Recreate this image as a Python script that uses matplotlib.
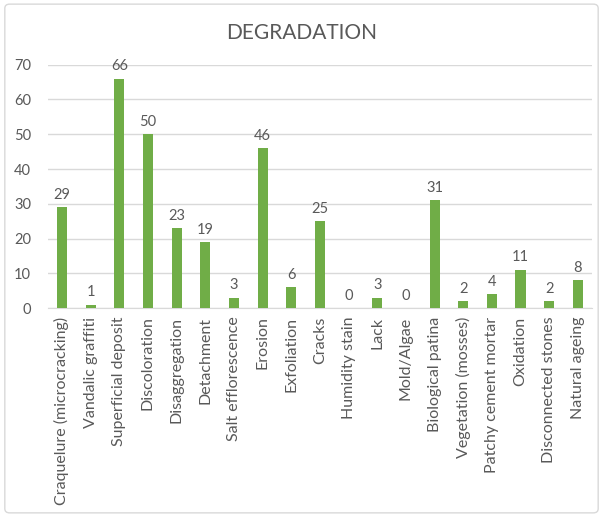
import matplotlib.pyplot as plt
from matplotlib.patches import FancyBboxPatch

plt.rcParams["font.family"] = ["Lato", "DejaVu Sans"]

CATEGORIES = [
    "Craquelure (microcracking)", "Vandalic graffiti", "Superficial deposit",
    "Discoloration", "Disaggregation", "Detachment", "Salt efflorescence",
    "Erosion", "Exfoliation", "Cracks", "Humidity stain", "Lack", "Mold/Algae",
    "Biological patina", "Vegetation (mosses)", "Patchy cement mortar",
    "Oxidation", "Disconnected stones", "Natural ageing",
]
COUNTS = [29, 1, 66, 50, 23, 19, 3, 46, 6, 25, 0, 3, 0, 31, 2, 4, 11, 2, 8]

BAR_COLOR = "#70AD47"
TEXT_COLOR = "#595959"
GRID_COLOR = "#D9D9D9"

fig = plt.figure(figsize=(6.03, 5.17), dpi=100)
ax = fig.add_axes([0.079, 0.4037, 0.903, 0.4713])

x = range(len(CATEGORIES))
bars = ax.bar(x, COUNTS, width=0.35, color=BAR_COLOR, zorder=3)
for rect, v in zip(bars, COUNTS):
    ax.annotate(str(v), (rect.get_x() + rect.get_width() / 2, v),
                xytext=(0, 4), textcoords="offset points",
                ha="center", va="bottom", fontsize=10.5, color=TEXT_COLOR)

ax.set_xlim(-0.5, len(CATEGORIES) - 0.5)
ax.set_ylim(0, 70)
ax.set_yticks(range(0, 71, 10))
ax.set_xticks(list(x))
ax.set_xticklabels(CATEGORIES, rotation=90, fontsize=11.5, color=TEXT_COLOR)
ax.tick_params(axis="y", labelsize=10.5, labelcolor=TEXT_COLOR, length=0, pad=12)
ax.tick_params(axis="x", length=0, pad=6)
ax.grid(axis="y", color=GRID_COLOR, linewidth=1, zorder=0)
for side in ("top", "right", "left"):
    ax.spines[side].set_visible(False)
ax.spines["bottom"].set_color(GRID_COLOR)

fig.text(0.5, 0.936, "DEGRADATION", ha="center", va="center",
         fontsize=15, color=TEXT_COLOR)

border = FancyBboxPatch((0.008, 0.008), 0.984, 0.984, boxstyle="round,pad=0,rounding_size=0.008",
                        transform=fig.transFigure, fill=False, edgecolor=GRID_COLOR, linewidth=1)
fig.patches.append(border)

fig.savefig("out.png", dpi=100)
